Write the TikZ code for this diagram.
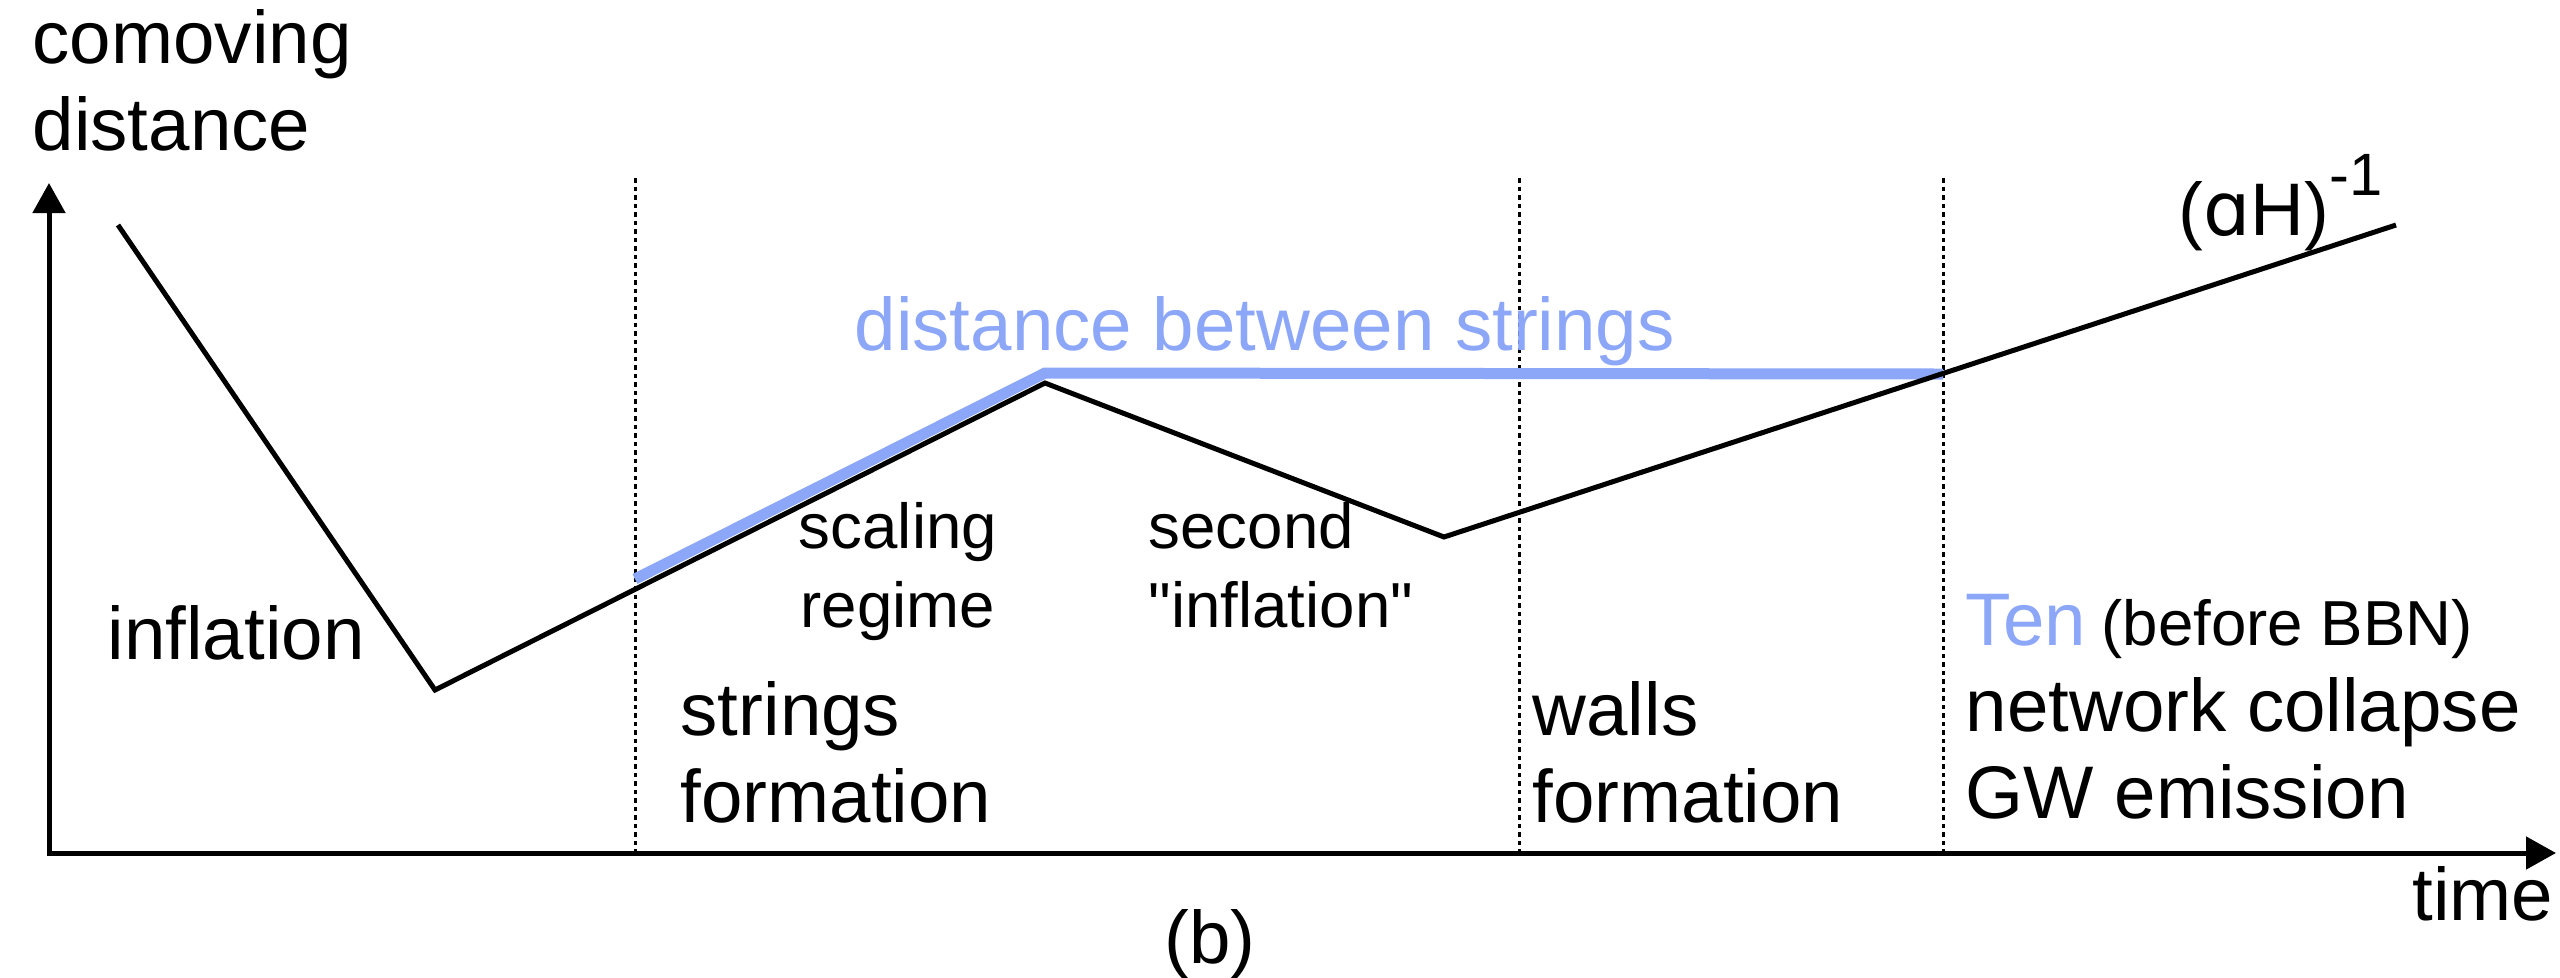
\documentclass[tikz,border=0pt]{standalone}
\usepackage{fontspec}
\setmainfont{Liberation Sans}
\newfontfamily\alphafont{DejaVu Sans}
\usetikzlibrary{arrows.meta}
\definecolor{stringblue}{RGB}{140,166,248}
\tikzset{
  axisline/.style={line width=0.5mm, {Triangle[length=3mm,width=3.2mm]}-{Triangle[length=3mm,width=3.2mm]}},
  epochline/.style={line width=0.3mm, dash pattern=on 0.45mm off 0.4mm},
  horizon/.style={line width=0.5mm},
  spacing/.style={line width=1.1mm, stringblue},
  bigtxt/.style={inner sep=0pt, font=\fontsize{21.2}{24.6}\selectfont},
  smalltxt/.style={inner sep=0pt, font=\fontsize{18.1}{22.4}\selectfont},
}
\begin{document}
\begin{tikzpicture}
% one unit = one pixel of the 2560 x 977 sketch, y downwards
% (multi-line labels are placed by the baseline of their last line)
\def\pxsz{0.1mm}
\begin{scope}[x=\pxsz, y=-\pxsz]
  \useasboundingbox (0,0) rectangle (2560,977);
  % Axes
  \coordinate (orig) at (49,853);
  \coordinate (ytip) at (49,183);
  \coordinate (xtip) at (2556,853);
  \draw[axisline] (ytip) |- (xtip);
  % Epoch boundaries
  \foreach \t/\nm in {635/strf,1519/wallf,1943/ten}{
    \coordinate (\nm-top) at (\t,178);
    \coordinate (\nm-bot) at (\t,853);
    \draw[epochline] (\nm-top) -- (\nm-bot);
  }
  % Distance between strings
  \coordinate (b0) at (635,579);
  \coordinate (b1) at (1045,373);
  \coordinate (b2) at (1943,374);
  \draw[spacing] (b0) -- (b1) -- (b2);
  % Comoving Hubble radius
  \coordinate (c0) at (118,225);
  \coordinate (c1) at (435,690);
  \coordinate (c2) at (1045,383);
  \coordinate (c3) at (1444,537);
  \coordinate (c4) at (2396,225);
  \draw[horizon] (c0) -- (c1) -- (c2) -- (c3) -- (c4);
  % Labels
  \node[bigtxt, anchor=base west, align=left] (ylabel) at (32,150) {comoving\\distance};
  \node[bigtxt, anchor=base east] (xlabel) at (2554,920) {time};
  \node[bigtxt, anchor=base] (panel) at (1210,963) {(b)};
  \node[bigtxt, anchor=base west, text=stringblue] (dist) at (854,350) {distance between strings};
  \node[bigtxt, anchor=base west] (hubble) at (2178,235)
    {({\alphafont ɑ}H)\raisebox{4mm}{\fontsize{17}{17}\selectfont -1}};
  \node[bigtxt, anchor=base west] (infl) at (107,659) {inflation};
  \node[smalltxt, anchor=base, align=center] (scal) at (898,627) {scaling\\regime};
  \node[smalltxt, anchor=base west, align=left] (secinf) at (1148,627)
    {second\\\textquotedbl inflation\textquotedbl};
  \node[bigtxt, anchor=base west, align=left] (strform) at (680,822) {strings\\formation};
  \node[bigtxt, anchor=base west, align=left] (wallform) at (1532,822) {walls\\formation};
  \node[bigtxt, anchor=base west, text=stringblue] (ten) at (1965,645) {Ten};
  \node[smalltxt, anchor=base west] (bbn) at (2101,645) {(before BBN)};
  \node[bigtxt, anchor=base west, align=left] (collapse) at (1965,818) {network collapse\\GW emission};
\end{scope}
\end{tikzpicture}
\end{document}
